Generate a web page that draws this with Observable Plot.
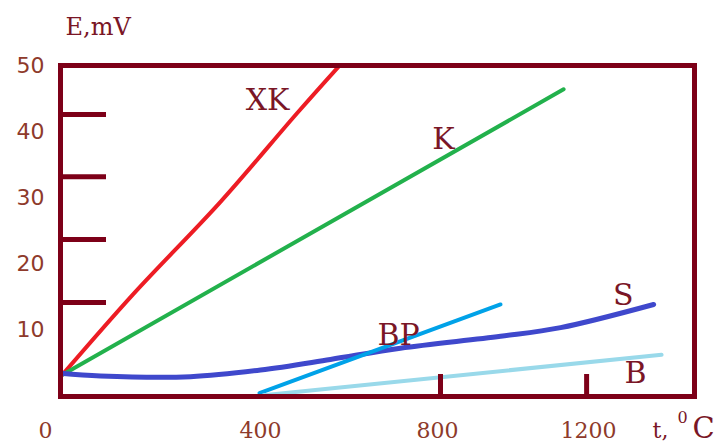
<!DOCTYPE html>
<html><head><meta charset="utf-8">
<script src="https://cdn.jsdelivr.net/npm/d3@7"></script>
<script src="https://cdn.jsdelivr.net/npm/@observablehq/plot@0.6"></script>
<style>body{margin:0;background:#fff}</style>
</head><body><div id="chart"></div>
<script>
// Series (thermocouple types) and values: t in °C, E in mV
const seriesNames = ["XK", "K", "S", "BP", "B"];
const seriesColors = ["#ed1c24", "#22b14c", "#3f48cc", "#00a2e8", "#99d9ea"];
const xkT = [4, 146, 320, 484, 576];
const xkE = [3.3, 15.5, 29.4, 42.9, 49.8];
const kT = [4, 1134];
const kE = [3.3, 46.4];
const sT = [0, 80, 260, 400, 558, 716, 967, 1126, 1372];
const sE = [3.5, 3.1, 3.0, 4.0, 5.6, 7.3, 9.1, 10.4, 13.9];
const bpT = [398, 967];
const bpE = [0.5, 13.9];
const bT = [407, 1393];
const bE = [0.2, 6.3];

// Series labels drawn in the plot
const labelText = ["XK", "K", "BP", "S", "B"];
const labelT = [416, 816, 712, 1292, 1324];
const labelE = [44.8, 38.8, 9.3, 15.2, 3.5];

// Axis tick labels
const yTickLabels = [10, 20, 30, 40, 50];
const xTickLabels = [400, 800, 1200];
const xZeroLabel = [0];
// Inner tick marks as drawn in the picture
const yInnerTicks = [42.6, 33.2, 23.7, 14.2];
const xInnerTicks = [808, 1195];

const maroon = "#7d0018";
const labelColor = "#8e3a2b";
const textColor = "#7a1626";

const rows = [];
const add = (name, T, E) => T.forEach((t, i) => rows.push({series: name, t, E: E[i]}));
add("XK", xkT, xkE);
add("K", kT, kE);
add("S", sT, sE);
add("BP", bpT, bpE);
add("B", bT, bE);

const labels = labelText.map((s, i) => ({s, t: labelT[i], E: labelE[i]}));

const lineWidths = {XK: 4, K: 4, S: 5, BP: 4, B: 4};
const curves = {XK: "catmull-rom", K: "linear", S: "catmull-rom", BP: "linear", B: "linear"};

const chart = Plot.plot({
  width: 724,
  height: 444,
  marginLeft: 60,
  marginRight: 30,
  marginTop: 65,
  marginBottom: 48,
  style: {fontFamily: "DejaVu Serif", background: "#fff", overflow: "visible"},
  x: {type: "linear", domain: [0, 400, 800, 1200, 1480], range: [60, 260, 437, 588, 694], label: null},
  y: {domain: [0, 50], label: null},
  color: {domain: seriesNames, range: seriesColors},
  marks: [
    ...seriesNames.map(name => Plot.line(rows.filter(r => r.series === name), {
      x: "t", y: "E", stroke: "series", strokeWidth: lineWidths[name], strokeLinecap: "round", curve: curves[name]
    })),
    Plot.frame({stroke: maroon, strokeWidth: 5}),
    Plot.axisY(yInnerTicks, {anchor: "left", tickSize: -46, text: null, stroke: maroon, strokeWidth: 5, label: null}),
    Plot.axisX(xInnerTicks, {anchor: "bottom", tickSize: -22, text: null, stroke: maroon, strokeWidth: 5, label: null}),
    Plot.axisY(yTickLabels, {anchor: "left", tickSize: 0, tickPadding: 16, fontSize: 22, fontFamily: "DejaVu Sans", fill: labelColor, label: null, tickFormat: d => String(d)}),
    Plot.axisX(xTickLabels, {anchor: "bottom", tickSize: 0, tickPadding: 26, fontSize: 22, fontFamily: "DejaVu Serif", fill: labelColor, label: null, tickFormat: d => String(d)}),
    Plot.axisX(xZeroLabel, {anchor: "bottom", tickSize: 0, tickPadding: 26, dx: -15, fontSize: 22, fontFamily: "DejaVu Serif", fill: labelColor, label: null, tickFormat: d => String(d)}),
    Plot.text(labels, {x: "t", y: "E", text: "s", fontSize: 30, fontFamily: "DejaVu Serif", fill: textColor, textAnchor: "middle", lineAnchor: "middle"}),
    Plot.text(["E,mV"], {frameAnchor: "top-left", textAnchor: "start", lineAnchor: "middle", dx: 5, dy: -38, fontSize: 24, fill: textColor}),
    Plot.text(["t,"], {frameAnchor: "bottom-right", textAnchor: "middle", lineAnchor: "middle", dx: -34, dy: 34, fontSize: 22, fill: textColor}),
    Plot.text(["0"], {frameAnchor: "bottom-right", textAnchor: "middle", lineAnchor: "middle", dx: -12, dy: 21, fontSize: 16, fill: textColor}),
    Plot.text(["C"], {frameAnchor: "bottom-right", textAnchor: "middle", lineAnchor: "middle", dx: 9, dy: 32, fontSize: 29, fill: textColor})
  ]
});
document.getElementById("chart").appendChild(chart);
</script>
</body></html>
